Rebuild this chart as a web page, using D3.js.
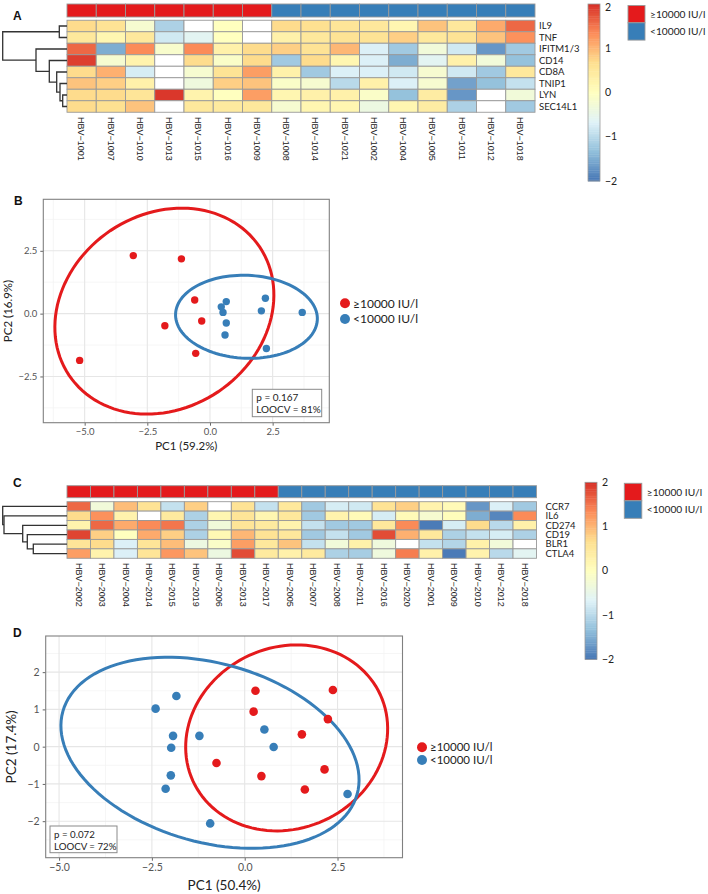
<!DOCTYPE html>
<html><head><meta charset="utf-8">
<script src="https://cdn.jsdelivr.net/npm/d3@7"></script>
<style>body{margin:0;background:#fff}svg{display:block}</style>
</head><body>
<svg id="chart" width="708" height="894"></svg>
<script>
// ---------------- DATA ----------------
const groupLabels = ["≥10000 IU/l", "<10000 IU/l"];
const groupColors = ["#e41a1c", "#377eb8"];
const heatColors = ["#4575B4","#91BFDB","#E0F3F8","#FFFFBF","#FEE090","#FC8D59","#D73027"];
const colorbarTicks = [-2, -1, 0, 1, 2];

// Heatmap A
const heatA_rows = ["IL9","TNF","IFITM1/3","CD14","CD8A","TNIP1","LYN","SEC14L1"];
const heatA_cols = ["HBV−1001","HBV−1007","HBV−1010","HBV−1013","HBV−1015","HBV−1016","HBV−1009","HBV−1008","HBV−1014","HBV−1021","HBV−1002","HBV−1004","HBV−1005","HBV−1011","HBV−1012","HBV−1018"];
const heatA_groups = [0,0,0,0,0,0,0,1,1,1,1,1,1,1,1,1];
const heatA_values = [
  [0.7, 0.6, -0.2, -1.1, null, 0.0, null, 0.7, 0.65, 0.55, 0.5, 0.2, 0.9, 0.5, 1.1, 1.6],
  [0.5, 0.2, 0.5, -0.8, -0.6, 0.0, null, 0.3, 0.5, 0.6, 0.6, 0.8, 0.5, 0.6, 0.9, 1.3],
  [1.6, -1.5, 1.35, -0.15, 1.35, 0.3, 0.7, 0.8, 0.6, 1.0, -0.7, -1.2, -0.3, -0.8, -1.7, -1.2],
  [1.9, -0.2, 0.25, null, 0.7, -0.1, 0.7, -1.2, 0.7, 0.2, -0.7, -1.5, -0.6, 0.3, -0.3, -1.3],
  [0.7, 1.05, -0.75, null, -0.2, 0.6, 1.2, 0.3, -1.2, -0.7, -0.7, -0.8, -0.2, -0.8, -1.2, 0.5],
  [0.9, 0.8, 0.3, null, -0.35, 0.8, 0.9, -0.1, -0.2, -1.0, 0.3, -0.7, -0.2, -1.6, -1.3, -0.9],
  [0.7, 0.7, 0.55, 1.95, 0.25, 0.0, 1.2, 0.2, 0.3, 0.3, -0.1, -1.3, 0.4, -1.7, null, -0.3],
  [0.7, 0.65, 0.9, null, 0.5, 0.45, 0.5, -0.2, 0.2, 0.2, -0.4, 0.2, 0.4, -1.1, null, -1.2]
];
// hclust-style merges: negative = leaf (1-based row), positive = earlier merge; third = height
const treeA_merge = [[-7,-8,0.43],[-6,1,0.70],[-5,2,1.03],[-4,3,1.77],[-1,-2,0.77],[-3,4,3.10],[5,6,6.43]];

// Heatmap C
const heatC_rows = ["CCR7","IL6","CD274","CD19","BLR1","CTLA4"];
const heatC_cols = ["HBV−2002","HBV−2003","HBV−2004","HBV−2014","HBV−2015","HBV−2019","HBV−2006","HBV−2013","HBV−2017","HBV−2005","HBV−2007","HBV−2008","HBV−2011","HBV−2016","HBV−2020","HBV−2001","HBV−2009","HBV−2010","HBV−2012","HBV−2018"];
const heatC_groups = [0,0,0,0,0,0,0,0,0,1,1,1,1,1,1,1,1,1,1,1];
const heatC_values = [
  [1.6, -0.3, 0.95, 0.6, -0.9, 0.8, null, 0.6, -0.9, 0.5, -1.2, -0.75, -0.8, 0.6, 0.8, 0.25, 0.1, -1.7, -0.7, -1.2],
  [0.7, 1.3, 0.25, null, 0.45, -1.1, 0.2, 0.55, 0.2, 0.5, -1.2, 0.25, 0.1, -0.75, 0.1, -0.2, 0.05, -1.5, -1.85, 1.35],
  [0.25, 1.6, 1.1, 1.35, 1.5, -1.1, -0.3, 0.55, 0.45, 0.25, -0.9, -1.2, -1.2, 0.5, 1.35, -1.95, -0.75, 0.7, -1.0, 0.3],
  [1.85, 0.8, 0.0, 1.1, 0.8, -1.1, 0.15, 1.0, 0.6, 0.5, -1.2, -0.9, -1.2, 1.8, 1.05, 0.5, -1.1, -0.9, -0.75, -1.1],
  [0.55, 0.7, -0.7, 0.55, 0.95, -0.4, -0.1, 1.2, 0.5, 0.9, -0.9, -0.3, 0.3, -0.35, null, -0.9, -1.05, 0.3, -0.3, null],
  [1.2, 0.25, -0.7, 0.55, 1.25, 0.9, -0.4, 1.8, 0.45, 0.3, 0.45, -1.1, -1.15, -0.35, 1.45, 0.3, -1.95, 0.25, -1.0, -0.6]
];
const treeC_merge = [[-5,-6,3.37],[-4,1,3.97],[-3,2,4.43],[-2,3,6.30],[-1,4,6.43]];

// PCA B
const pcaB_pc1 = [-3.06,-1.14,-0.61,-1.80,-0.33,-5.20,-0.57, 0.45,0.65,0.52,2.21,2.05,3.68,0.65,0.60,2.25];
const pcaB_pc2 = [2.31,2.18,0.54,-0.48,-0.29,-1.86,-1.58, 0.27,0.48,0.05,0.61,0.11,0.05,-0.37,-0.85,-1.39];
const pcaB_group = [0,0,0,0,0,0,0,1,1,1,1,1,1,1,1,1];
// ellipse per group: [centre x, centre y, semi-axis a, semi-axis b, angle deg]
const pcaB_ellipses = [[-1.82, 0.10, 4.58, 3.86, 33.9],[1.455, -0.125, 2.83, 1.65, -2.3]];
const pcaB_stats = ["p = 0.167", "LOOCV = 81%"];

// PCA D
const pcaD_pc1 = [0.29,2.375,0.24,2.24,1.54,-0.76,0.45,2.15,1.62, -2.40,-1.84,-1.93,-1.22,0.53,-1.98,0.78,-1.99,-2.13,2.77,-0.93];
const pcaD_pc2 = [1.50,1.52,0.94,0.74,0.33,-0.44,-0.79,-0.61,-1.15, 1.02,1.36,0.29,0.29,0.46,-0.03,-0.01,-0.77,-1.13,-1.27,-2.06];
const pcaD_group = [0,0,0,0,0,0,0,0,0,1,1,1,1,1,1,1,1,1,1,1];
const pcaD_ellipses = [[1.13, 0.235, 2.776, 2.433, 24.5],[-0.935, -0.165, 4.116, 2.40, -15.7]];
const pcaD_stats = ["p = 0.072", "LOOCV = 72%"];

// ---------------- DRAWING ----------------
const svg = d3.select("#chart");
const HUM = "Lato, 'Open Sans', sans-serif";
const HEL = "'Liberation Sans', Arial, sans-serif";
const colorScale = d3.scaleLinear().domain(d3.range(7).map(i => -2 + i * 4 / 6)).range(heatColors).clamp(true);

function panelLetter(t, x, y) {
  svg.append("text").attr("x", x).attr("y", y).text(t)
    .attr("font-family", HEL).attr("font-weight", "bold").attr("font-size", 12).attr("fill", "#111");
}

function drawHeatmap(c) {
  const g = svg.append("g");
  const xb = d3.scaleBand().domain(c.cols).range([c.x0, c.x1]);
  const yb = d3.scaleBand().domain(c.rows).range([c.bodyY, c.bodyY + c.cellH * c.rows.length]);
  // annotation bar
  g.selectAll(".ann").data(c.cols).join("rect")
    .attr("x", d => xb(d)).attr("y", c.annY).attr("width", xb.bandwidth()).attr("height", c.annH)
    .attr("fill", (d, i) => groupColors[c.groups[i]]).attr("stroke", "#999").attr("stroke-width", 0.9);
  // cells
  c.values.forEach((row, ri) => {
    g.selectAll(null).data(row).join("rect")
      .attr("x", (d, i) => xb(c.cols[i])).attr("y", yb(c.rows[ri]))
      .attr("width", xb.bandwidth()).attr("height", yb.bandwidth())
      .attr("fill", d => d === null ? "#ffffff" : colorScale(d))
      .attr("stroke", "#999").attr("stroke-width", 0.9);
  });
  // row labels
  g.selectAll(".rl").data(c.rows).join("text")
    .attr("x", c.rowLabelX).attr("y", d => yb(d) + yb.bandwidth() / 2).attr("dy", "0.35em")
    .text(d => d).attr("font-family", HUM).attr("font-size", c.rowFont).attr("fill", "#222");
  // column labels
  g.selectAll(".cl").data(c.cols).join("text")
    .attr("transform", d => `translate(${xb(d) + xb.bandwidth() / 2},${c.colLabelY}) rotate(90)`)
    .attr("dy", "0.35em").text(d => d)
    .attr("font-family", HEL).attr("font-size", 9).attr("fill", "#222");
  // dendrogram
  const hmax = d3.max(c.merge, d => d[2]);
  const xs = d3.scaleLinear().domain([0, hmax]).range([c.x0, c.treeLeft]);
  const clusters = [];
  const info = id => id < 0 ? { y: yb(c.rows[-id - 1]) + yb.bandwidth() / 2, h: 0 } : clusters[id - 1];
  c.merge.forEach(m => {
    const A = info(m[0]), B = info(m[1]);
    g.append("path")
      .attr("d", `M${xs(A.h)},${A.y}H${xs(m[2])}V${B.y}H${xs(B.h)}`)
      .attr("fill", "none").attr("stroke", "#333").attr("stroke-width", 1.3);
    clusters.push({ y: (A.y + B.y) / 2, h: m[2] });
  });
  // colorbar
  const cb = d3.scaleLinear().domain([-2, 2]).range([c.cbBottom, c.cbTop]);
  const steps = d3.range(100);
  g.selectAll(".cb").data(steps).join("rect")
    .attr("x", c.cbX).attr("width", c.cbW)
    .attr("y", i => cb(-2 + (i + 1) * 0.04)).attr("height", i => cb(-2 + i * 0.04) - cb(-2 + (i + 1) * 0.04) + 0.4)
    .attr("fill", i => colorScale(-2 + (i + 0.5) * 0.04));
  g.append("rect").attr("x", c.cbX).attr("y", c.cbTop).attr("width", c.cbW).attr("height", c.cbBottom - c.cbTop)
    .attr("fill", "none").attr("stroke", "#999").attr("stroke-width", 0.8);
  g.selectAll(".cbt").data(colorbarTicks).join("text")
    .attr("x", c.cbX + c.cbW + 5).attr("y", d => Math.max(cb(d), 7)).attr("dy", "0.35em")
    .text(d => d3.format("d")(d)).attr("font-family", HUM).attr("font-size", 10.5).attr("fill", "#222");
  // group legend
  groupLabels.forEach((lab, i) => {
    g.append("rect").attr("x", c.legX).attr("y", c.legY + i * c.legH).attr("width", c.legW).attr("height", c.legH)
      .attr("fill", groupColors[i]).attr("stroke", "#999").attr("stroke-width", 0.9);
    g.append("text").attr("x", c.legX + c.legW + 5).attr("y", c.legY + i * c.legH + c.legH / 2).attr("dy", "0.35em")
      .text(lab).attr("font-family", HUM).attr("font-size", 10.2).attr("fill", "#222");
  });
}

function drawPCA(c) {
  const g = svg.append("g");
  const x = d3.scaleLinear().domain(c.xDomain).range([c.left, c.right]);
  const y = d3.scaleLinear().domain(c.yDomain).range([c.bottom, c.top]);
  g.append("rect").attr("x", c.left).attr("y", c.top).attr("width", c.right - c.left).attr("height", c.bottom - c.top).attr("fill", "#fff");
  c.xMinor.forEach(v => g.append("line").attr("x1", x(v)).attr("x2", x(v)).attr("y1", c.top).attr("y2", c.bottom).attr("stroke", "#f2f2f2").attr("stroke-width", 0.7));
  c.yMinor.forEach(v => g.append("line").attr("y1", y(v)).attr("y2", y(v)).attr("x1", c.left).attr("x2", c.right).attr("stroke", "#f2f2f2").attr("stroke-width", 0.7));
  c.xMajor.forEach(v => g.append("line").attr("x1", x(v)).attr("x2", x(v)).attr("y1", c.top).attr("y2", c.bottom).attr("stroke", "#e6e6e6").attr("stroke-width", 1.1));
  c.yMajor.forEach(v => g.append("line").attr("y1", y(v)).attr("y2", y(v)).attr("x1", c.left).attr("x2", c.right).attr("stroke", "#e6e6e6").attr("stroke-width", 1.1));
  // axes
  const ax = g.append("g").attr("transform", `translate(0,${c.bottom})`)
    .call(d3.axisBottom(x).tickValues(c.xMajor).tickFormat(c.xFmt).tickSize(3).tickPadding(3));
  const ay = g.append("g").attr("transform", `translate(${c.left},0)`)
    .call(d3.axisLeft(y).tickValues(c.yMajor).tickFormat(c.yFmt).tickSize(3).tickPadding(3));
  [ax, ay].forEach(a => {
    a.select(".domain").remove();
    a.selectAll("line").attr("stroke", "#666");
    a.selectAll("text").attr("font-family", HUM).attr("font-size", c.tickFont).attr("fill", "#555");
  });
  // ellipses
  const ts = d3.range(0, 361, 3).map(d => d * Math.PI / 180);
  const line = d3.line().x(d => x(d[0])).y(d => y(d[1]));
  c.ellipses.forEach((e, gi) => {
    const th = e[4] * Math.PI / 180;
    const pts = ts.map(t => [
      e[0] + e[2] * Math.cos(th) * Math.cos(t) - e[3] * Math.sin(th) * Math.sin(t),
      e[1] + e[2] * Math.sin(th) * Math.cos(t) + e[3] * Math.cos(th) * Math.sin(t)]);
    g.append("path").attr("d", line(pts) + "Z").attr("fill", "none")
      .attr("stroke", groupColors[gi]).attr("stroke-width", 3);
  });
  // points
  g.selectAll(".pt").data(c.pc1).join("circle")
    .attr("cx", d => x(d)).attr("cy", (d, i) => y(c.pc2[i])).attr("r", c.r)
    .attr("fill", (d, i) => groupColors[c.group[i]]);
  // border
  g.append("rect").attr("x", c.left).attr("y", c.top).attr("width", c.right - c.left).attr("height", c.bottom - c.top)
    .attr("fill", "none").attr("stroke", "#808080").attr("stroke-width", 1.1);
  // axis titles
  g.append("text").attr("x", (c.left + c.right) / 2).attr("y", c.xTitleY).attr("text-anchor", "middle")
    .text(c.xTitle).attr("font-family", HUM).attr("font-size", c.titleFont).attr("fill", "#222");
  g.append("text").attr("transform", `translate(${c.yTitleX},${(c.top + c.bottom) / 2}) rotate(-90)`).attr("text-anchor", "middle")
    .text(c.yTitle).attr("font-family", HUM).attr("font-size", c.titleFont).attr("fill", "#222");
  // stats box
  g.append("rect").attr("x", c.box[0]).attr("y", c.box[1]).attr("width", c.box[2]).attr("height", c.box[3])
    .attr("fill", "#fff").attr("stroke", "#8a8a8a").attr("stroke-width", 1);
  c.stats.forEach((s, i) => g.append("text").attr("x", c.box[0] + 4).attr("y", c.box[1] + 11.5 + i * 12.5)
    .text(s).attr("font-family", HUM).attr("font-size", c.boxFont).attr("fill", "#222"));
  // legend
  groupLabels.forEach((lab, i) => {
    g.append("circle").attr("cx", c.legX).attr("cy", c.legY + i * c.legDy).attr("r", 5).attr("fill", groupColors[i]);
    g.append("text").attr("x", c.legX + 8).attr("y", c.legY + i * c.legDy).attr("dy", "0.35em")
      .text(lab).attr("font-family", HUM).attr("font-size", c.legFont).attr("fill", "#222");
  });
}

// Panel A
panelLetter("A", 13, 20);
drawHeatmap({
  rows: heatA_rows, cols: heatA_cols, groups: heatA_groups, values: heatA_values, merge: treeA_merge,
  x0: 67, x1: 535, annY: 4, annH: 13, bodyY: 20.25, cellH: 11.5, treeLeft: 2.7,
  colLabelY: 117, rowLabelX: 539, rowFont: 9.5,
  cbX: 588, cbW: 12, cbTop: 4, cbBottom: 181,
  legX: 628, legY: 5.5, legW: 17, legH: 17.3
});

// Panel B
panelLetter("B", 14, 205);
drawPCA({
  pc1: pcaB_pc1, pc2: pcaB_pc2, group: pcaB_group, ellipses: pcaB_ellipses, stats: pcaB_stats,
  left: 43.3, right: 329.3, top: 199.3, bottom: 422.7,
  xDomain: [-6.65, 4.76], yDomain: [-4.34, 4.55],
  xMajor: [-5, -2.5, 0, 2.5], yMajor: [-2.5, 0, 2.5],
  xMinor: [-6.25, -3.75, -1.25, 1.25, 3.75], yMinor: [-3.75, -1.25, 1.25, 3.75],
  xFmt: d3.format(".1f"), yFmt: d3.format(".1f"), tickFont: 9.5,
  xTitle: "PC1 (59.2%)", yTitle: "PC2 (16.9%)", titleFont: 11.5, xTitleY: 450, yTitleX: 11.5,
  r: 3.7, box: [252.3, 389.3, 69.4, 27.4], boxFont: 10,
  legX: 345, legY: 303.3, legDy: 15.7, legFont: 12
});

// Panel C
panelLetter("C", 13, 487);
drawHeatmap({
  rows: heatC_rows, cols: heatC_cols, groups: heatC_groups, values: heatC_values, merge: treeC_merge,
  x0: 67, x1: 536.5, annY: 485.7, annH: 12, bodyY: 501.7, cellH: 9.43, treeLeft: 2.7,
  colLabelY: 563, rowLabelX: 545.5, rowFont: 9.5,
  cbX: 585, cbW: 12, cbTop: 482.3, cbBottom: 659.3,
  legX: 624.3, legY: 483.3, legW: 17.5, legH: 17.5
});

// Panel D
panelLetter("D", 13, 637);
drawPCA({
  pc1: pcaD_pc1, pc2: pcaD_pc2, group: pcaD_group, ellipses: pcaD_ellipses, stats: pcaD_stats,
  left: 45.7, right: 402.5, top: 636, bottom: 857.7,
  xDomain: [-5.36, 4.25], yDomain: [-2.98, 2.97],
  xMajor: [-5, -2.5, 0, 2.5], yMajor: [-2, -1, 0, 1, 2],
  xMinor: [-3.75, -1.25, 1.25, 3.75], yMinor: [-2.5, -1.5, -0.5, 0.5, 1.5, 2.5],
  xFmt: d3.format(".1f"), yFmt: d3.format("d"), tickFont: 10.5,
  xTitle: "PC1 (50.4%)", yTitle: "PC2 (17.4%)", titleFont: 13.5, xTitleY: 890, yTitleX: 16,
  r: 4.3, box: [50, 826, 67, 26.7], boxFont: 9.7,
  legX: 422, legY: 747.3, legDy: 12.7, legFont: 11.5
});
</script>
</body></html>
